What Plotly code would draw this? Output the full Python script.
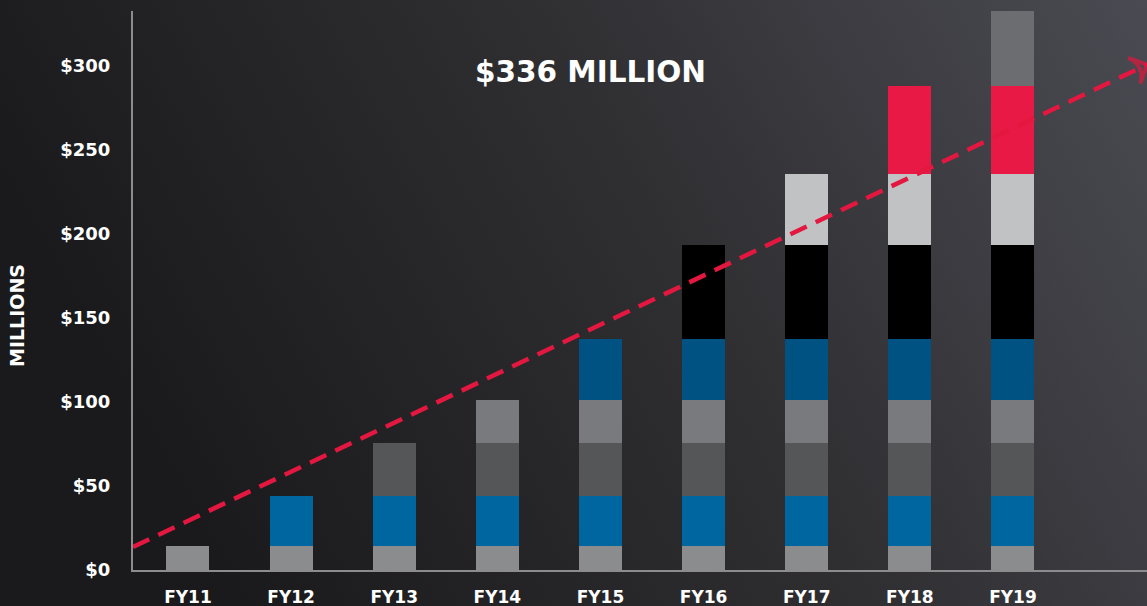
import base64
import plotly.graph_objects as go

# ---- data ----
years = ["FY11", "FY12", "FY13", "FY14", "FY15", "FY16", "FY17", "FY18", "FY19"]
segment_values = [14, 30, 31.5, 25.5, 36.5, 56, 42, 52.5, 44.5]  # each layer added in successive years
segment_colors = ["#8b8c8e", "#0066a0", "#545658", "#797a7d", "#005282",
                  "#000000", "#c1c2c4", "#e81a45", "#6c6d71"]
y_ticks = [0, 50, 100, 150, 200, 250, 300]
y_ticktext = ["$0", "$50", "$100", "$150", "$200", "$250", "$300"]
trend_x = [-0.533, 9.30]
trend_y = [13.7, 300.6]
title_text = "$336 MILLION"
y_title = "MILLIONS"

FONT = "DejaVu Sans"
W, H = 1147, 606
L, R, T, B = 133, 0, 11, 36
pw, ph = W - L - R, H - T - B

fig = go.Figure()
xs = list(range(len(years)))
for k, (v, c) in enumerate(zip(segment_values, segment_colors)):
    vals = [v if i >= k else 0 for i in xs]
    fig.add_trace(go.Bar(x=xs, y=vals, marker=dict(color=c, line=dict(width=0)),
                         width=0.417, showlegend=False, hoverinfo="skip"))

fig.add_trace(go.Scatter(
    x=trend_x, y=trend_y, mode="lines+markers",
    line=dict(color="#e3173f", width=4.5, dash="18px,10px"),
    marker=dict(symbol=["circle", "arrow-wide-open"], size=[0, 20], angleref="previous",
                color="#e3173f", line=dict(color="#e3173f", width=4)),
    cliponaxis=False, showlegend=False, hoverinfo="skip"))

svg = (f"<svg xmlns='http://www.w3.org/2000/svg' width='{W}' height='{H}' viewBox='0 0 {W} {H}' preserveAspectRatio='none'>"
       "<defs><linearGradient id='g' x1='0' y1='0.3' x2='1' y2='0'>"
       "<stop offset='0' stop-color='#1a1a1c'/><stop offset='0.5' stop-color='#2f2f32'/>"
       "<stop offset='1' stop-color='#4a4a52'/></linearGradient></defs>"
       f"<rect width='{W}' height='{H}' fill='url(#g)'/></svg>")
src = "data:image/svg+xml;base64," + base64.b64encode(svg.encode()).decode()

fig.add_layout_image(dict(source=src, xref="paper", yref="paper",
                          x=-L / pw, y=1 + T / ph, sizex=W / pw, sizey=H / ph,
                          xanchor="left", yanchor="top", sizing="stretch", layer="below"))

fig.add_annotation(text=title_text, xref="paper", yref="paper",
                   x=(590 - L) / pw, y=1 - (72 - T) / ph, showarrow=False,
                   xanchor="center", yanchor="middle",
                   font=dict(family=FONT, size=29.5, color="white", weight="bold"))
fig.add_annotation(text=y_title, xref="paper", yref="paper",
                   x=(17 - L) / pw, y=1 - (316 - T) / ph, showarrow=False, textangle=-90,
                   xanchor="center", yanchor="middle",
                   font=dict(family=FONT, size=19, color="white", weight="bold"))

fig.update_layout(
    width=W, height=H, margin=dict(l=L, r=R, t=T, b=B, autoexpand=False),
    paper_bgcolor="#2c2c2f", plot_bgcolor="rgba(0,0,0,0)",
    barmode="stack", bargap=0,
    xaxis=dict(range=[-0.533, 9.30], tickvals=xs, ticktext=years, showgrid=False,
               zeroline=False, showline=True, linecolor="#8c8c8e", linewidth=2,
               ticks="", ticklabelstandoff=11, automargin=False,
               tickfont=dict(family=FONT, size=17, color="white", weight="bold")),
    yaxis=dict(range=[0, 332.5], tickvals=y_ticks, ticktext=y_ticktext, showgrid=False,
               zeroline=False, showline=True, linecolor="#8c8c8e", linewidth=2,
               ticks="", ticklabelstandoff=17, automargin=False,
               tickfont=dict(family=FONT, size=18, color="white", weight="bold")),
)

fig.write_html("out.html", config={"displayModeBar": False},
               post_script="document.body.style.margin='0';document.body.style.overflow='hidden';")
